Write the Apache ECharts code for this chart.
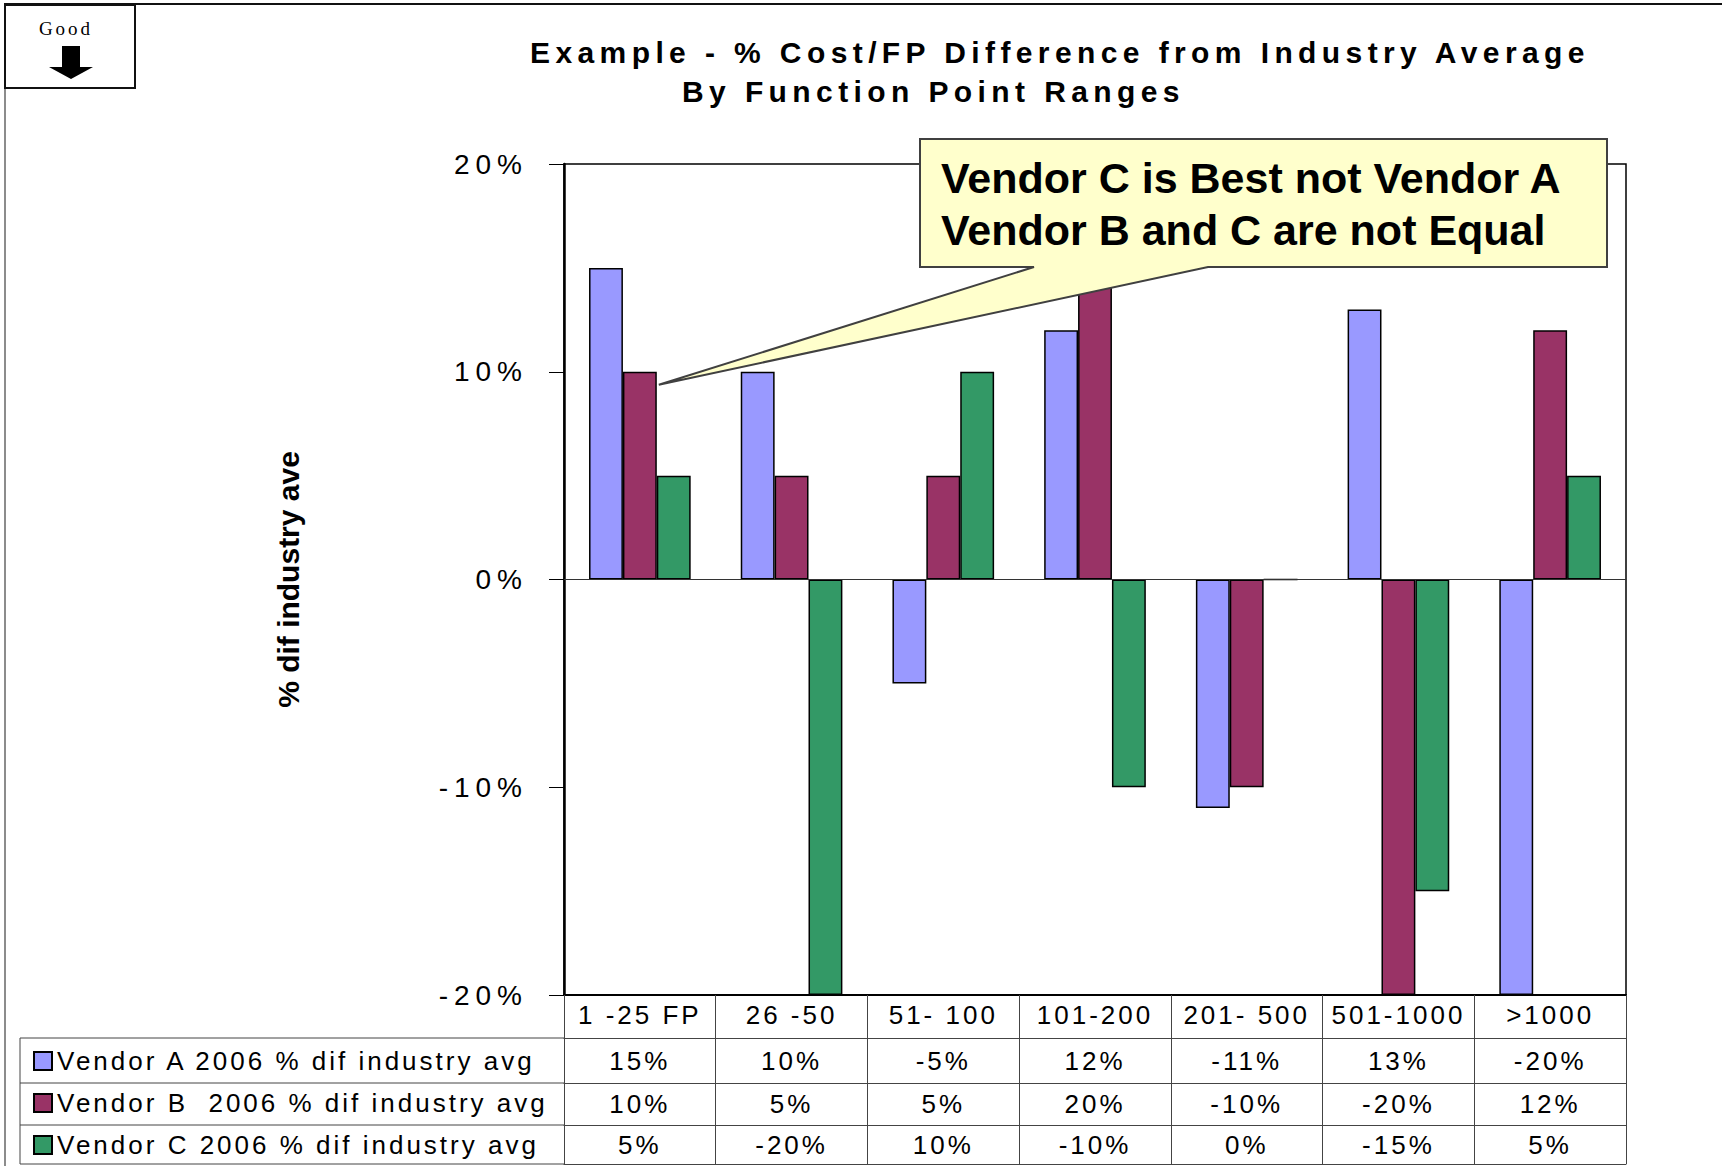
<!DOCTYPE html>
<html>
<head>
<meta charset="utf-8">
<script src="https://cdn.jsdelivr.net/npm/echarts@6/dist/echarts.min.js"></script>
<style>
html,body{margin:0;padding:0;background:#fff;}
#chart{width:1722px;height:1166px;}
</style>
</head>
<body>
<div id="chart"></div>
<script>
// ---- data ----
const categories = ['1 -25 FP', '26 -50', '51- 100', '101-200', '201- 500', '501-1000', '>1000'];
const vendorA = [15, 10, -5, 12, -11, 13, -20];
const vendorB = [10, 5, 5, 20, -10, -20, 12];
const vendorC = [5, -20, 10, -10, 0, -15, 5];
const seriesNames = ['Vendor A 2006 % dif industry avg', 'Vendor B  2006 % dif industry avg', 'Vendor C 2006 % dif industry avg'];
const seriesColors = ['#9999FF', '#993366', '#339966'];
const yMin = -20, yMax = 20, yInterval = 10;
const titleLines = ['Example - % Cost/FP Difference from Industry Average', 'By Function Point Ranges'];
const yAxisTitle = '% dif industry ave';
const calloutLines = ['Vendor C is Best not Vendor A', 'Vendor B and C are not Equal'];
const badgeText = 'Good';

// ---- layout ----
const W = 1722, H = 1166;
const GRID = {left: 564, right: 96, top: 164, bottom: 171};
const ROW_OFFSETS = [43, 88, 130, 169];
const ROW_MARGINS = [10, 8, 7];
const FONT = 'Liberation Sans, Arial, sans-serif';
const pct = v => v + '%';
const rows = [vendorA, vendorB, vendorC];

const chart = echarts.init(document.getElementById('chart'), null, {renderer: 'svg'});

const xAxes = [{
  type: 'category', data: categories, position: 'bottom', gridIndex: 0,
  axisLine: {onZero: false, lineStyle: {color: '#000', width: 2}},
  axisTick: {show: true, interval: 0, length: ROW_OFFSETS[3], lineStyle: {color: '#444', width: 1}},
  axisLabel: {interval: 0, margin: 7, fontSize: 26, color: '#000', fontFamily: FONT},
  splitLine: {show: false}
}];
rows.forEach((arr, i) => {
  xAxes.push({
    type: 'category', data: categories, position: 'bottom', gridIndex: 0, offset: ROW_OFFSETS[i],
    axisLine: {onZero: false, lineStyle: {color: '#444', width: 1}},
    axisTick: {show: false},
    axisLabel: {interval: 0, margin: ROW_MARGINS[i], fontSize: 26, color: '#000', fontFamily: FONT,
      formatter: (v, idx) => pct(arr[idx])},
    splitLine: {show: false}
  });
});
xAxes.push({
  type: 'category', data: categories, position: 'bottom', gridIndex: 0, offset: ROW_OFFSETS[3],
  axisLine: {onZero: false, lineStyle: {color: '#444', width: 1}},
  axisTick: {show: false}, axisLabel: {show: false}, splitLine: {show: false}
});

const series = [vendorA, vendorB, vendorC].map((d, i) => ({
  type: 'bar', name: seriesNames[i], data: d, xAxisIndex: 0, yAxisIndex: 0,
  barGap: '0%', barCategoryGap: '33%',
  itemStyle: {color: seriesColors[i], borderColor: '#000', borderWidth: 1.5},
  emphasis: {disabled: true}
}));
series[0].markLine = {
  silent: true, symbol: 'none', label: {show: false},
  lineStyle: {color: '#333', width: 1, type: 'solid'},
  data: [{yAxis: 0}]
};

const option = {
  animation: false,
  backgroundColor: '#fff',
  textStyle: {fontFamily: FONT},
  title: [
    {text: titleLines[0], left: 530, top: 37, padding: 0,
     textStyle: {fontSize: 30, fontWeight: 'bold', color: '#000', fontFamily: FONT}},
    {text: titleLines[1], left: 682, top: 76, padding: 0,
     textStyle: {fontSize: 30, fontWeight: 'bold', color: '#000', fontFamily: FONT}}
  ],
  legend: {
    data: seriesNames, orient: 'vertical', left: 33, top: 1048, padding: 0,
    itemWidth: 18, itemHeight: 18, itemGap: 16, icon: 'rect', selectedMode: false,
    textStyle: {fontSize: 26, lineHeight: 26, color: '#000', fontFamily: FONT}
  },
  grid: Object.assign({show: true, borderColor: '#000', borderWidth: 1.5, containLabel: false}, GRID),
  xAxis: xAxes,
  yAxis: {
    type: 'value', min: yMin, max: yMax, interval: yInterval,
    axisLine: {show: true, lineStyle: {color: '#000', width: 2.5}},
    axisTick: {show: true, length: 15, lineStyle: {color: '#000', width: 1}},
    axisLabel: {formatter: '{value}%', fontSize: 28, margin: 36, color: '#000', fontFamily: FONT},
    splitLine: {show: false},
    name: yAxisTitle, nameLocation: 'middle', nameRotate: 90, nameGap: 261,
    nameTextStyle: {fontSize: 30, fontWeight: 'bold', color: '#000', fontFamily: FONT}
  },
  series: series
};
chart.setOption(option);

// ---- callout & decorations (tip located via the chart's own scales) ----
const p0 = chart.convertToPixel({gridIndex: 0}, [categories[0], vendorB[0]]);
const p1 = chart.convertToPixel({gridIndex: 0}, [categories[1], vendorB[0]]);
const band = p1[0] - p0[0];
const barW = band * (1 - 0.33) / 3;
const tip = [p0[0] + barW / 2 + 2, p0[1] + 13];

const tableLeft = 20;
const axisY = H - GRID.bottom;
const tableLines = ROW_OFFSETS.map(o => ({
  type: 'line', z: 50, silent: true,
  shape: {x1: tableLeft, y1: axisY + o, x2: GRID.left, y2: axisY + o},
  style: {stroke: '#444', lineWidth: 1}
}));
tableLines.push({
  type: 'line', z: 50, silent: true,
  shape: {x1: tableLeft, y1: axisY + ROW_OFFSETS[0], x2: tableLeft, y2: axisY + ROW_OFFSETS[3]},
  style: {stroke: '#444', lineWidth: 1}
});

const graphics = [
  // page frame
  {type: 'line', z: 60, silent: true, shape: {x1: 4, y1: 4, x2: W, y2: 4}, style: {stroke: '#111', lineWidth: 2}},
  {type: 'line', z: 60, silent: true, shape: {x1: 5, y1: 88, x2: 5, y2: H}, style: {stroke: '#666', lineWidth: 1.5}},
  // Good badge
  {type: 'rect', z: 61, silent: true, shape: {x: 5, y: 5, width: 130, height: 83}, style: {fill: '#fff', stroke: '#111', lineWidth: 2}},
  {type: 'text', z: 62, silent: true, style: {text: badgeText, x: 66, y: 28, align: 'center', verticalAlign: 'middle', font: '19px Liberation Serif, Times New Roman, serif', fill: '#000'}},
  {type: 'polygon', z: 62, silent: true, shape: {points: [[62, 46], [80, 46], [80, 67], [93, 67], [71, 79], [49, 67], [62, 67]]}, style: {fill: '#000'}},
  // callout
  {type: 'polygon', z: 100, silent: true,
   shape: {points: [[920, 139], [1607, 139], [1607, 267], [1208, 267], tip, [1034, 267], [920, 267]]},
   style: {fill: '#FFFFCC', stroke: '#404040', lineWidth: 2}},
  {type: 'text', z: 101, silent: true,
   style: {text: calloutLines.join('\n'), x: 941, y: 152, align: 'left', verticalAlign: 'top',
           font: 'bold 43px Liberation Sans, Arial, sans-serif', lineHeight: 52, fill: '#000'}}
].concat(tableLines);

chart.setOption({graphic: graphics});

// ---- letter spacing imitation of the source rendering ----
function applySpacing() {
  document.querySelectorAll('#chart svg text').forEach(t => {
    const s = (t.textContent || '').trim();
    const fs = window.getComputedStyle(t).fontSize;
    let ls = null;
    if (titleLines.includes(s)) ls = '5.4px';
    else if (s === badgeText) ls = '3px';
    else if (s === yAxisTitle || calloutLines.includes(s)) ls = '0px';
    else if (fs === '28px') ls = '6px';
    else if (fs === '26px') ls = '3px';
    if (ls !== null) t.style.letterSpacing = ls;
  });
}
chart.on('finished', applySpacing);
applySpacing();
setTimeout(applySpacing, 50);
setTimeout(applySpacing, 300);
</script>
</body>
</html>
